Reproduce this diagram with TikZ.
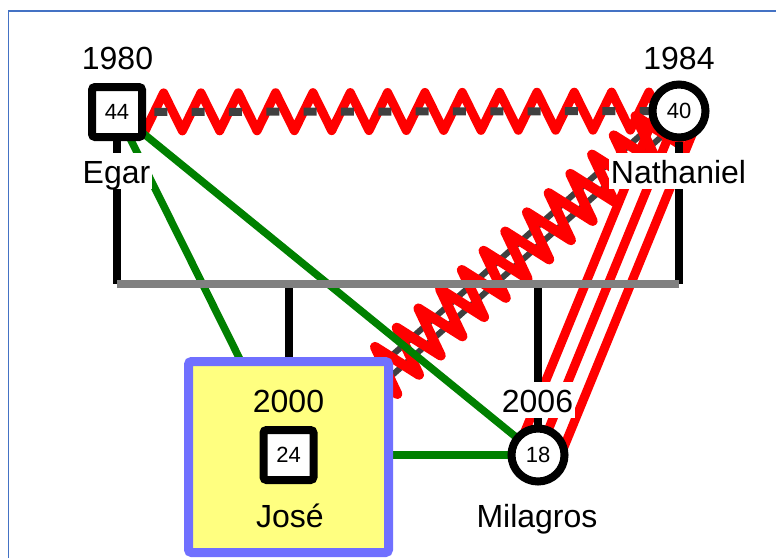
\documentclass[tikz,border=0pt]{standalone}
\usepackage{fontspec}
\setmainfont{Liberation Sans}
\usetikzlibrary{decorations.pathmorphing,calc}
\definecolor{framec}{RGB}{68,114,196}
\definecolor{zred}{RGB}{255,0,0}
\definecolor{zgreen}{RGB}{0,128,0}
\definecolor{hgray}{RGB}{128,128,128}
\definecolor{dgray}{RGB}{64,64,64}
\definecolor{jblue}{RGB}{112,112,255}
\definecolor{jyellow}{RGB}{255,255,128}
\pgfdeclarelayer{bg}
\pgfsetlayers{bg,main}
\begin{document}
\begin{tikzpicture}[x=1pt,y=-1pt,
  lbl/.style={font=\fontsize{32}{38}\selectfont, inner sep=1.5pt, text height=29pt, text depth=4pt, fill=white},
  malebox/.style={draw=black, line width=8pt, fill=white, minimum size=50pt, rounded corners=3pt, inner sep=0pt, font=\fontsize{22}{26}\selectfont},
  femalebox/.style={circle, draw=black, line width=8pt, fill=white, minimum size=53pt, inner sep=0pt, font=\fontsize{22}{26}\selectfont},
  jbox/.style={draw=jblue, line width=9pt, fill=jyellow, rounded corners=3pt, minimum width=200pt, minimum height=191pt, inner sep=0pt},
  redzig/.style={draw=zred, line cap=round, line join=round, decorate},
  redline/.style={draw=zred, line width=9pt},
  dashgray/.style={draw=dgray, line width=8pt, dash pattern=on 13pt off 24.33pt},
  dblgray/.style={draw=dgray, line width=6pt},
  grnline/.style={draw=zgreen, line width=7.5pt},
  blkline/.style={draw=black, line width=8pt},
  famline/.style={draw=hgray, line width=8pt}
]
\useasboundingbox (0,0) rectangle (776,558);

% nodes
\node[malebox] (egar) at (117,112) {44};
\node[femalebox] (nath) at (679,111) {40};
\node[jbox] (jose) at (288.5,457) {};
\node[malebox] (josesq) at (288.5,455) {24};
\node[femalebox] (mila) at (538,455) {18};

\node[lbl, anchor=base, fill=none] (y1980) at (117.5,69) {1980};
\node[lbl, anchor=base, fill=none] (y1984) at (679,69) {1984};
\node[lbl, anchor=base] (negar) at (116.5,183) {Egar};
\node[lbl, anchor=base] (nnath) at (678.5,183) {Nathaniel};
\node[lbl, anchor=base] (y2006) at (537.5,412) {2006};
\node[lbl, anchor=base] (nmila) at (537,527) {Milagros};
\node[lbl, anchor=base, fill=none] (y2000) at (288.5,412) {2000};
\node[lbl, anchor=base, fill=none] (njose) at (290,527) {José};

\coordinate (famL) at (117,284);
\coordinate (famR) at (679,284);
\coordinate (cJ) at (288.5,284);
\coordinate (cM) at (538,284);

\begin{pgfonlayer}{bg}
  % frame
  \draw[framec, line width=1.5pt] (8.5,558) -- (8.5,11) -- (776,11);
  % Egar - Nathaniel
  \draw[redzig, line width=9pt, decoration={zigzag, segment length=37.33pt, amplitude=19pt}] (egar.center) -- (nath.center);
  \draw[dashgray] (egar.center) -- (nath.center);
  % Jose - Nathaniel
  \draw[dblgray] ($(jose.center)!7.5pt!90:(nath.center)$) -- ($(nath.center)!7.5pt!-90:(jose.center)$);
  \draw[dblgray] ($(jose.center)!7.5pt!-90:(nath.center)$) -- ($(nath.center)!7.5pt!90:(jose.center)$);
  \draw[redzig, line width=10pt, decoration={zigzag, segment length=29pt, amplitude=25pt, pre=lineto, pre length=14.5pt}] (jose.center) -- (nath.center);
  % Nathaniel - Milagros
  \draw[redline] (nath.center) -- (mila.center);
  \draw[redline] ($(nath.center)!21pt!90:(mila.center)$) -- ($(mila.center)!21pt!-90:(nath.center)$);
  \draw[redline] ($(nath.center)!21pt!-90:(mila.center)$) -- ($(mila.center)!21pt!90:(nath.center)$);
  % green
  \draw[grnline] (egar.center) -- (jose.center);
  \draw[grnline] (egar.center) -- (mila.center);
  \draw[grnline] (josesq.center) -- (mila.center);
  % family lines
  \draw[blkline] (egar.south) -- (famL);
  \draw[blkline] (nath.south) -- (famR);
  \draw[blkline] (cJ) -- (jose.north);
  \draw[blkline] (cM) -- (mila.north);
  \draw[famline] (famL) -- (famR);
\end{pgfonlayer}
\end{tikzpicture}
\end{document}
